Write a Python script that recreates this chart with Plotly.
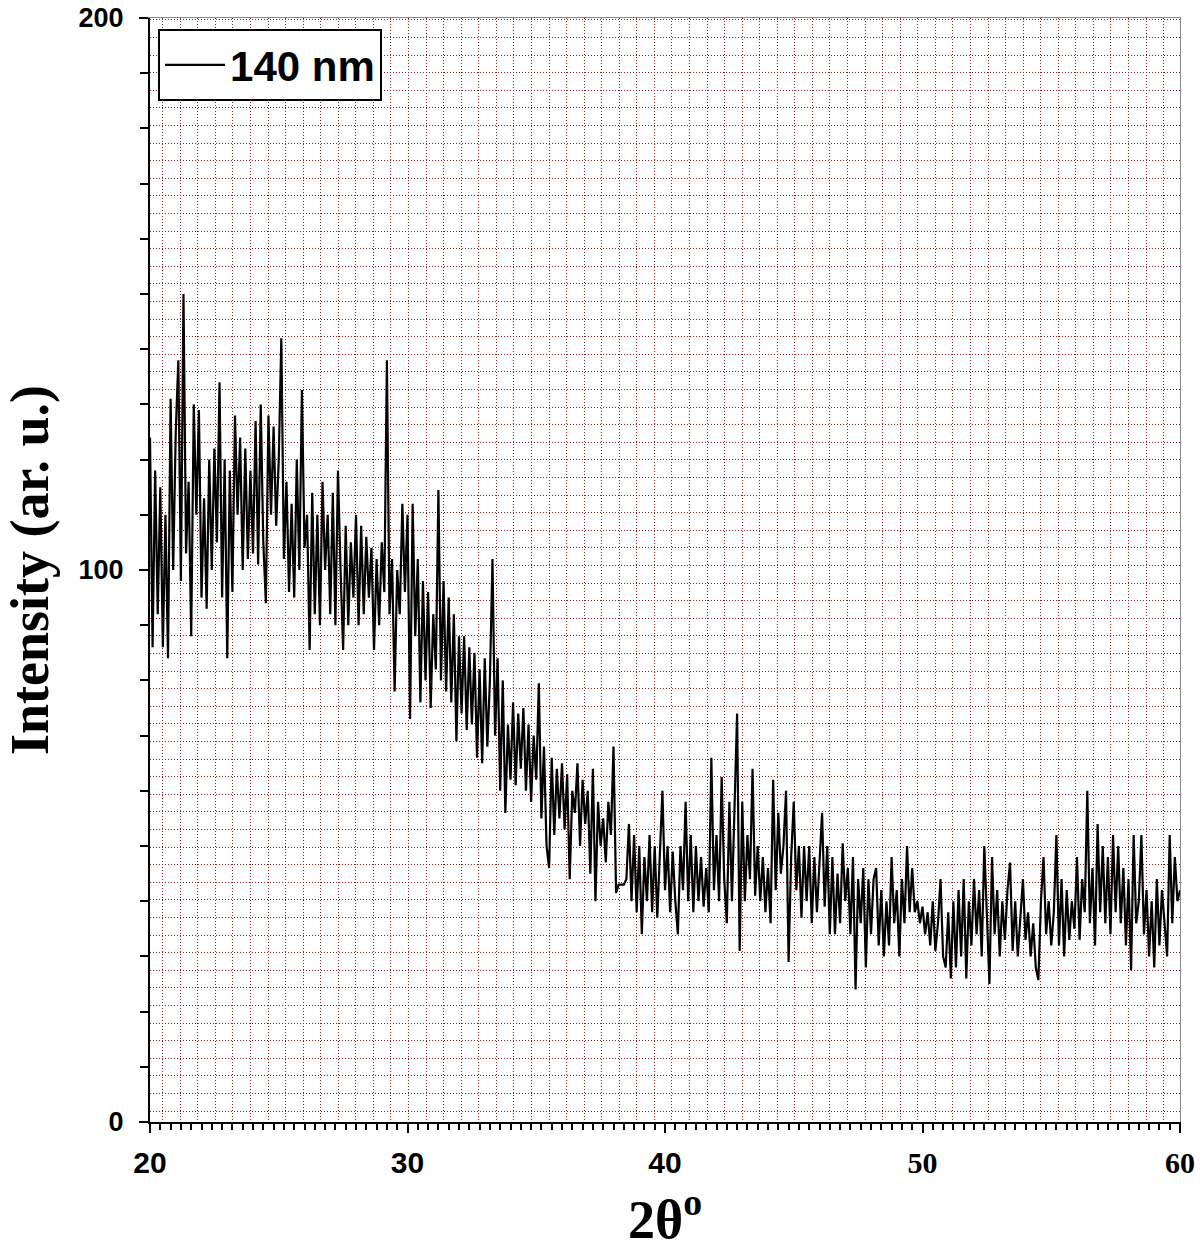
import numpy as np
import plotly.graph_objects as go

# ---- data ----
two_theta = np.round(np.arange(20.0, 60.0001, 0.1), 1)

intensity_20_30 = [
    124, 86, 118, 92, 115, 86, 110, 84, 131, 100,
    125, 138, 98, 150, 103, 116, 88, 130, 110, 129,
    95, 113, 93, 120, 100, 122, 105, 134, 95, 120,
    84, 118, 96, 128, 110, 124, 100, 122, 102, 118,
    103, 127, 101, 130, 105, 94, 128, 110, 126, 108,
    120, 142, 102, 116, 96, 112, 95, 120, 100, 132.6,
    104, 110, 85.5, 114, 92, 110, 90, 116, 100, 110,
    92, 114, 90, 118, 100, 85.5, 108, 90, 105, 95,
    110, 90, 108, 92, 106, 95, 104, 85.5, 102, 90,
    105, 96, 138, 92, 102, 78, 100, 92, 112, 96,
]
intensity_30_40 = [
    110, 73, 112, 88, 102, 76, 98, 80, 96, 75,
    92, 82, 114.5, 80, 98, 78, 95, 76, 92, 69,
    88, 74, 88, 71, 86, 72, 85, 66, 82, 65,
    84, 68, 80, 102, 70, 84, 60, 80, 56, 72,
    62, 76, 61, 74, 64, 75, 60, 72, 58, 70,
    62, 79.5, 55, 68, 50, 46, 66, 52, 64, 55,
    65, 53, 63, 44, 60, 56, 65, 50, 62, 54,
    60, 45, 64, 40, 58, 50, 55, 47, 58, 52,
    68, 41.5, 43, 43, 43, 44, 54, 40, 52, 38,
    50, 34, 48, 40, 52, 38, 50, 37, 48, 60,
]
intensity_40_50 = [
    42, 50, 38, 49, 40, 34, 50, 42, 58, 40,
    52, 38, 50, 40, 48, 39, 46, 38, 66, 42,
    52, 40, 62.5, 44, 36, 58, 40, 58, 74, 31,
    58, 40, 52, 44, 64, 41, 50, 40, 48, 38,
    46, 36, 62, 42, 56, 45, 50, 60, 29, 48,
    58, 42, 50, 37, 50, 40, 50, 36, 48, 38,
    46, 56, 39, 50, 34, 48, 34, 45, 36, 50.5,
    40, 46, 34, 48, 24, 44, 36, 46, 28, 44,
    34, 44, 46, 32, 42, 30, 40, 32, 48, 36,
    42, 30, 44, 36, 50, 38, 46, 38, 40, 36,
]
intensity_50_60 = [
    39, 34, 38, 32, 40, 31, 36, 44, 30, 28,
    38, 26, 40, 28, 42, 30, 44, 26, 40, 32,
    44, 34, 42, 30, 50, 36, 25, 48, 34, 42,
    30, 40, 33, 42, 47, 31, 40, 30, 38, 44,
    33, 38, 30, 36, 28, 25.7, 40, 48, 34, 40,
    32, 38, 52, 32, 44, 30, 42, 33, 40, 35,
    48, 33, 44, 38, 60, 36, 46, 32, 54, 38,
    50, 36, 48, 34, 52, 38, 50, 36, 46, 32,
    44, 27.5, 52, 36, 40, 52, 34, 42, 30, 40,
    28, 44, 32, 42, 36, 30, 52, 36, 48, 40, 42,
]
intensity = intensity_20_30 + intensity_30_40 + intensity_40_50 + intensity_50_60

series_name = "140 nm"
x_tick_vals = [20, 30, 40, 50, 60]
x_tick_text = ["20", "30", "40",
               "<span style=\"font-family:'Liberation Serif',serif\">50</span>",
               "<span style=\"font-family:'Liberation Serif',serif\">60</span>"]
y_tick_vals = [0, 100, 200]
y_tick_text = ["0", "100", "200"]
x_title = "2θ<sup>o</sup>"
y_title = "Intensity (ar. u.)"

# ---- figure ----
fig = go.Figure()
fig.add_trace(go.Scatter(
    x=two_theta, y=intensity, mode="lines", name=series_name,
    line=dict(color="black", width=2.2),
))
# empty trace that carries the background-grid overlay axes
fig.add_trace(go.Scatter(x=[], y=[], xaxis="x2", yaxis="y2",
                         showlegend=False, hoverinfo="skip"))

grid_color = "#8e1f1f"

fig.update_layout(
    width=1200, height=1252,
    margin=dict(l=150, r=20, t=18, b=130, autoexpand=False),
    paper_bgcolor="white", plot_bgcolor="white",
    showlegend=True,
    legend=dict(
        x=0.0078, y=0.99, xanchor="left", yanchor="top",
        bgcolor="white", bordercolor="black", borderwidth=2,
        font=dict(family="Liberation Sans", size=42, color="black", weight="bold"),
        itemwidth=60, tracegroupgap=0,
    ),
    xaxis=dict(
        range=[20, 60], tickmode="array", tickvals=x_tick_vals, ticktext=x_tick_text,
        ticks="outside", ticklen=9, tickwidth=2, tickcolor="black",
        showline=True, linecolor="black", linewidth=2,
        showgrid=False, zeroline=False, automargin=False,
        minor=dict(tickmode="linear", tick0=20, dtick=0.4, ticks="outside",
                   ticklen=6, tickwidth=1.5, tickcolor="black", showgrid=False),
        tickfont=dict(family="Liberation Sans", size=30, color="black", weight="bold"),
        ticklabelstandoff=4,
        title=dict(text=x_title, standoff=22,
                   font=dict(family="Liberation Serif", size=54, color="black", weight="bold")),
    ),
    yaxis=dict(
        range=[0, 200], tickmode="array", tickvals=y_tick_vals, ticktext=y_tick_text,
        ticks="outside", ticklen=9, tickwidth=2, tickcolor="black",
        showline=True, linecolor="black", linewidth=2,
        showgrid=False, zeroline=False, automargin=False,
        minor=dict(tickmode="linear", tick0=0, dtick=10, ticks="outside",
                   ticklen=8, tickwidth=1.5, tickcolor="black", showgrid=False),
        tickfont=dict(family="Liberation Sans", size=27, color="black", weight="bold"),
        ticklabelstandoff=10,
        title=dict(text=y_title, standoff=20,
                   font=dict(family="Liberation Serif", size=54, color="black", weight="bold")),
    ),
    xaxis2=dict(
        overlaying="x", anchor="y2", side="top", range=[0, 1030],
        tickmode="linear", tick0=12.7, dtick=17.56, automargin=False,
        showgrid=True, gridcolor=grid_color, gridwidth=1.2, griddash="1px,2px",
        showticklabels=False, ticks="", zeroline=False,
        showline=True, linecolor="#8a8a8a", linewidth=1,
    ),
    yaxis2=dict(
        overlaying="y", anchor="x2", side="right", range=[0, 1104],
        tickmode="linear", tick0=11, dtick=17.6, automargin=False,
        showgrid=True, gridcolor=grid_color, gridwidth=1.2, griddash="1px,2px",
        showticklabels=False, ticks="", zeroline=False,
        showline=True, linecolor="#8a8a8a", linewidth=1,
    ),
)

fig.write_html(
    "out.html",
    config={"displayModeBar": False},
    post_script="document.body.style.margin='0px';document.body.style.overflow='hidden';",
)
